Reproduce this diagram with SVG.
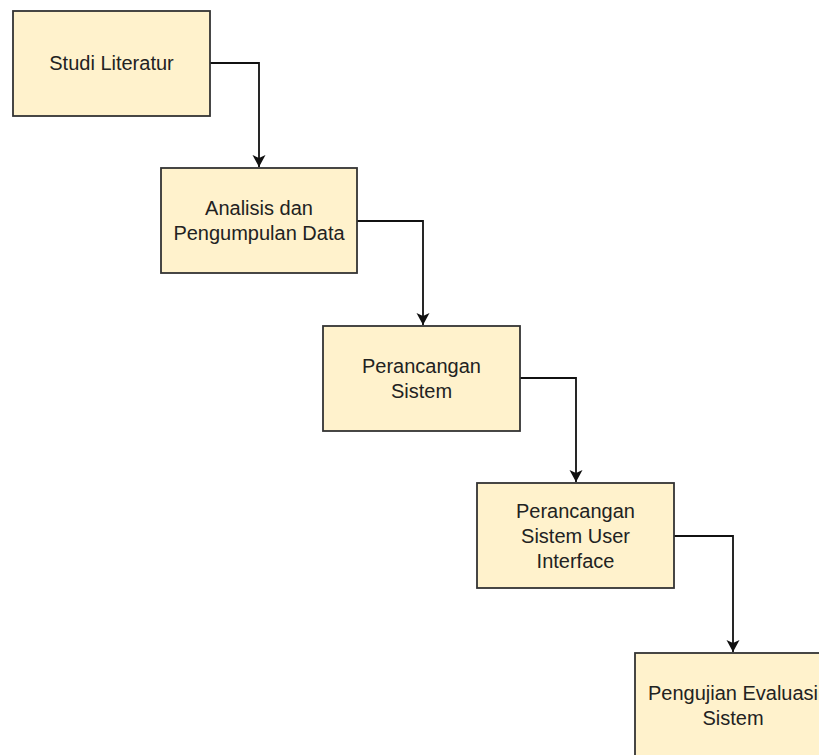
<svg xmlns="http://www.w3.org/2000/svg" width="819" height="755" viewBox="0 0 819 755">
<style>
.box{fill:#fff2cc;stroke:#333;stroke-width:1.8}
.t{font-family:"Liberation Sans",Arial,sans-serif;font-size:20px;fill:#222;text-anchor:middle;dominant-baseline:central}
.c{fill:none;stroke:#111;stroke-width:1.8}
</style>
<defs>
<marker id="a" markerWidth="14" markerHeight="14" refX="12" refY="6.5" orient="auto" markerUnits="userSpaceOnUse">
<path d="M0,0 L12,6.5 L0,13 L3,6.5 Z" fill="#111"/>
</marker>
</defs>
<rect width="819" height="755" fill="#fff"/>
<g id="connectors">
<path class="c" d="M210,63 H259 V167" marker-end="url(#a)"/>
<path class="c" d="M357,221 H423 V325" marker-end="url(#a)"/>
<path class="c" d="M520,378 H576 V482" marker-end="url(#a)"/>
<path class="c" d="M674,536 H733 V652" marker-end="url(#a)"/>
</g>
<g id="n1"><rect class="box" x="13" y="11" width="197" height="105"/><text class="t" x="111.5" y="63">Studi Literatur</text></g>
<g id="n2"><rect class="box" x="161" y="168" width="196" height="105"/><text class="t" x="259" y="208">Analisis dan</text><text class="t" x="259" y="233">Pengumpulan Data</text></g>
<g id="n3"><rect class="box" x="323" y="326" width="197" height="105"/><text class="t" x="421.5" y="366">Perancangan</text><text class="t" x="421.5" y="391">Sistem</text></g>
<g id="n4"><rect class="box" x="477" y="483" width="197" height="105"/><text class="t" x="575.5" y="511">Perancangan</text><text class="t" x="575.5" y="536">Sistem User</text><text class="t" x="575.5" y="561">Interface</text></g>
<g id="n5"><rect class="box" x="635" y="653" width="197" height="110"/><text class="t" x="733" y="693">Pengujian Evaluasi</text><text class="t" x="733" y="718">Sistem</text></g>
</svg>
